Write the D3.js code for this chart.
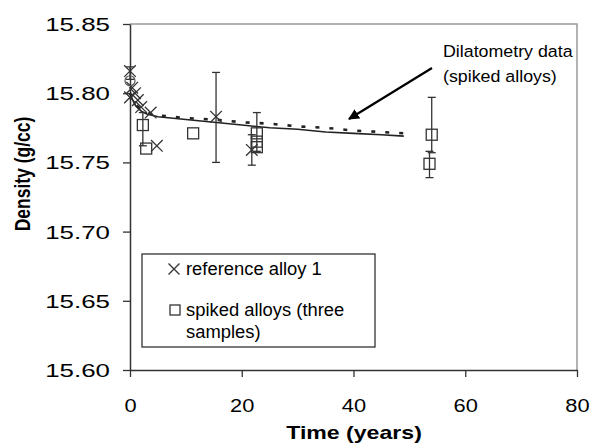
<!DOCTYPE html>
<html><head><meta charset="utf-8">
<script src="https://cdn.jsdelivr.net/npm/d3@7"></script>
<style>body{margin:0;background:#fff}svg{display:block}text{font-family:"Liberation Sans",Arial,sans-serif;fill:#000}</style>
</head><body>
<svg id="c" width="593" height="445"></svg>
<script>
// ---- data ----
const xTicks = [0, 20, 40, 60, 80];
const yTicks = [15.60, 15.65, 15.70, 15.75, 15.80, 15.85];
// reference alloy 1 (x markers): time, density, err low, err high (null = none)
const refT   = [0,      0.4,    0.9,    1.4,    2.0,    3.7,    4.8,    15.4,   21.8,   0];
const refD   = [15.816, 15.804, 15.800, 15.795, 15.790, 15.786, 15.762, 15.783, 15.759, 15.797];
const refLo  = [15.810, null,   null,   null,   null,   null,   null,   15.750, 15.748, null];
const refHi  = [15.819, null,   null,   null,   null,   null,   null,   15.815, 15.770, null];
// spiked alloys (squares)
const spkT   = [2.3,    2.9,    11.3,   22.7,   22.7,   22.7,   54.0,   53.6];
const spkD   = [15.777, 15.760, 15.771, 15.771, 15.765, 15.761, 15.770, 15.749];
const spkLo  = [15.762, null,   null,   15.758, null,   null,   15.757, 15.739];
const spkHi  = [15.786, null,   null,   15.786, null,   null,   15.797, 15.758];
// extra circle marker at t=0
const circT = [0]; const circD = [15.809];
// fitted line (solid) and dilatometry data (dashed)
const fitT = [0, 0.5, 1, 2, 3, 5, 10, 15, 20, 25, 30, 35, 40, 45, 49];
const fitD = [15.800, 15.795, 15.791, 15.787, 15.785, 15.783, 15.781, 15.779, 15.777, 15.775, 15.774, 15.772, 15.771, 15.770, 15.769];
const dilT = [0, 1, 2, 3, 5, 10, 15, 20, 25, 30, 35, 40, 45, 49];
const dilD = [15.800, 15.792, 15.788, 15.786, 15.784, 15.782, 15.781, 15.779, 15.778, 15.776, 15.775, 15.773, 15.772, 15.771];

// ---- chart ----
const svg = d3.select("#c");
const L = 130, R = 577, T = 24, B = 370;
const x = d3.scaleLinear().domain([0, 80]).range([L, R]);
const y = d3.scaleLinear().domain([15.60, 15.85]).range([B, T]);

// border top/right
svg.append("path").attr("d", `M${L},${T}H${R}V${B}`).attr("fill","none").attr("stroke","#999").attr("stroke-width",1.5);

// axes
const ya = svg.append("g").attr("transform", `translate(${L},0)`)
  .call(d3.axisLeft(y).tickValues(yTicks).tickFormat(d3.format(".2f")).tickSize(7).tickSizeOuter(0));
const xa = svg.append("g").attr("transform", `translate(0,${B})`)
  .call(d3.axisBottom(x).tickValues(xTicks).tickFormat(d3.format("d")).tickSize(7).tickSizeOuter(0));
[ya, xa].forEach(g => { g.select(".domain").attr("stroke","#333").attr("stroke-width",1.5); g.selectAll(".tick line").attr("stroke","#333").attr("stroke-width",1.3); });
ya.selectAll(".tick text").attr("font-size", 18.5).attr("x", 0).attr("dy", null)
  .attr("transform", "translate(-20,6.5) scale(1.4,1)").attr("text-anchor","end").attr("fill","#000");
xa.selectAll(".tick text").attr("font-size", 18.5).attr("y", 0).attr("dy", null)
  .attr("transform", "translate(0,42) scale(1.18,1)").attr("fill","#000");

// axis titles
svg.append("text").attr("transform", "translate(354,439) scale(1.32,1)").attr("text-anchor","middle")
  .attr("font-size", 17.5).attr("font-weight","bold").text("Time (years)");
svg.append("text").attr("transform", "translate(30,174) rotate(-90) scale(1,1.3)").attr("text-anchor","middle")
  .attr("font-size", 17.5).attr("font-weight","bold").text("Density (g/cc)");

// lines
const line = d3.line().x(d => x(d[0])).y(d => y(d[1]));
svg.append("path").datum(fitT.map((t,i)=>[t,fitD[i]])).attr("d", line)
  .attr("fill","none").attr("stroke","#222").attr("stroke-width",1.6);
svg.append("path").datum(dilT.map((t,i)=>[t,dilD[i]])).attr("d", line)
  .attr("fill","none").attr("stroke","#222").attr("stroke-width",2.6).attr("stroke-dasharray","4,10");

// error bars
function errBars(ts, lo, hi) {
  const g = svg.append("g").attr("stroke","#333").attr("stroke-width",1.3);
  ts.forEach((t,i) => {
    if (lo[i] == null) return;
    const cx = x(t);
    g.append("line").attr("x1",cx).attr("x2",cx).attr("y1",y(lo[i])).attr("y2",y(hi[i]));
    g.append("line").attr("x1",cx-4).attr("x2",cx+4).attr("y1",y(lo[i])).attr("y2",y(lo[i]));
    g.append("line").attr("x1",cx-4).attr("x2",cx+4).attr("y1",y(hi[i])).attr("y2",y(hi[i]));
  });
}
errBars(refT, refLo, refHi);
errBars(spkT, spkLo, spkHi);

// markers
const cross = d3.symbol().type(d3.symbolX).size(90);
const gx = svg.append("g");
refT.forEach((t,i) => gx.append("path").attr("d", cross).attr("transform",`translate(${x(t)},${y(refD[i])})`)
  .attr("fill","none").attr("stroke","#333").attr("stroke-width",1.3));
const gs = svg.append("g");
spkT.forEach((t,i) => gs.append("rect").attr("x", x(t)-5.5).attr("y", y(spkD[i])-5.5).attr("width",11).attr("height",11)
  .attr("fill","none").attr("stroke","#333").attr("stroke-width",1.3));
circT.forEach((t,i) => svg.append("circle").attr("cx", x(t)).attr("cy", y(circD[i])).attr("r",5)
  .attr("fill","none").attr("stroke","#555").attr("stroke-width",1.2));

// annotation
svg.append("text").attr("transform","translate(443,57) scale(1.08,1)").attr("font-size",16.5).text("Dilatometry data");
svg.append("text").attr("transform","translate(443,82) scale(1.08,1)").attr("font-size",16.5).text("(spiked alloys)");
svg.append("defs").append("marker").attr("id","ah").attr("viewBox","0 0 10 10").attr("refX",9).attr("refY",5)
  .attr("markerWidth",5).attr("markerHeight",5).attr("orient","auto")
  .append("path").attr("d","M0,0L10,5L0,10Z").attr("fill","#000");
svg.append("line").attr("x1",432).attr("y1",68).attr("x2",349).attr("y2",119)
  .attr("stroke","#000").attr("stroke-width",2.2).attr("marker-end","url(#ah)");

// legend
const lg = svg.append("g");
lg.append("rect").attr("x",142).attr("y",254).attr("width",233).attr("height",93)
  .attr("fill","#fff").attr("stroke","#333").attr("stroke-width",1.3);
lg.append("path").attr("d", d3.symbol().type(d3.symbolX).size(80)).attr("transform","translate(174,269)")
  .attr("fill","none").attr("stroke","#333").attr("stroke-width",1.3);
lg.append("rect").attr("x",170).attr("y",305).attr("width",10).attr("height",10)
  .attr("fill","none").attr("stroke","#333").attr("stroke-width",1.3);
lg.append("text").attr("transform","translate(186,275) scale(1.05,1)").attr("font-size",17.5).text("reference alloy 1");
lg.append("text").attr("transform","translate(186,316) scale(1.05,1)").attr("font-size",17.5).text("spiked alloys (three");
lg.append("text").attr("transform","translate(186,338) scale(1.05,1)").attr("font-size",17.5).text("samples)");
</script>
</body></html>
